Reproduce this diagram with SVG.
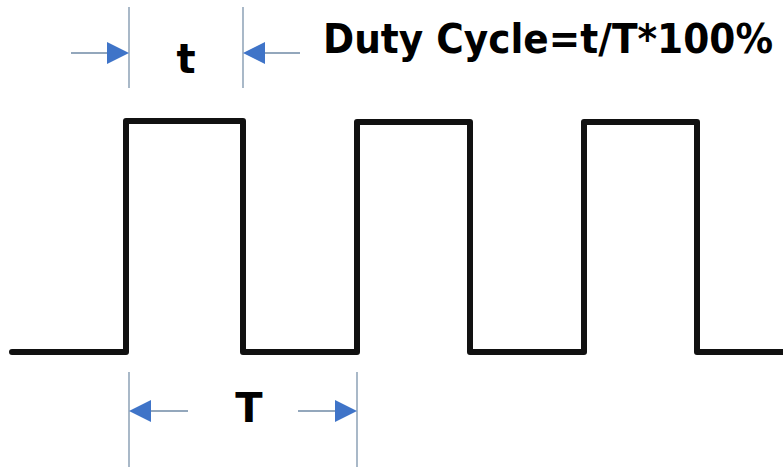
<svg xmlns="http://www.w3.org/2000/svg" width="783" height="470" viewBox="0 0 783 470">
<style>
.wave{fill:none;stroke:#111;stroke-width:6;stroke-linejoin:round;stroke-linecap:round}
.ext{stroke:#7b93ab;stroke-width:1.3}
.dim{stroke:#6f8aa6;stroke-width:1.5}
.head{fill:#3f74c8}
.lbl{font-family:"DejaVu Sans",Verdana,sans-serif;font-weight:bold;font-size:40px;fill:#000}
.ttl{font-family:"DejaVu Sans Condensed","DejaVu Sans",sans-serif;font-weight:bold;font-size:40px;fill:#000}
</style>
<rect width="783" height="470" fill="#fff"/>
<g id="waveform">
<path class="wave" d="M12 352 H126 V121 H243 V352 H357 V122 H470 V352 H584 V122 H697 V352 H783"/>
</g>
<g id="connectors">
<line class="ext" x1="129" y1="7" x2="129" y2="88"/>
<line class="ext" x1="243" y1="7" x2="243" y2="88"/>
<line class="dim" x1="71" y1="53" x2="110" y2="53"/>
<polygon class="head" points="129,53 107,42 107,64"/>
<line class="dim" x1="262" y1="53" x2="300" y2="53"/>
<polygon class="head" points="243,53 265,42 265,64"/>
<line class="ext" x1="129" y1="372" x2="129" y2="467"/>
<line class="ext" x1="357" y1="372" x2="357" y2="467"/>
<line class="dim" x1="148" y1="411" x2="188" y2="411"/>
<polygon class="head" points="129,411 151,400 151,422"/>
<line class="dim" x1="298" y1="411" x2="338" y2="411"/>
<polygon class="head" points="357,411 335,400 335,422"/>
</g>
<g id="label-t"><text class="lbl" x="186" y="73" text-anchor="middle">t</text></g>
<g id="label-T"><text class="lbl" x="249" y="422" text-anchor="middle">T</text></g>
<g id="title"><text class="ttl" x="323" y="53" textLength="450" lengthAdjust="spacingAndGlyphs">Duty Cycle=t/T*100%</text></g>
</svg>
